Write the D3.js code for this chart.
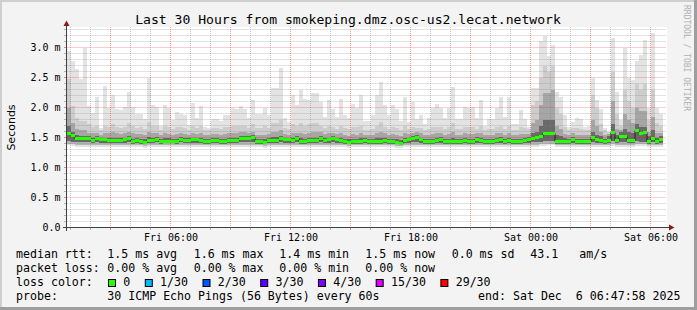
<!DOCTYPE html>
<html><head><meta charset="utf-8">
<script src="https://cdn.jsdelivr.net/npm/d3@7"></script>
<style>
html,body{margin:0;padding:0;background:#f3f3f3;}
svg{display:block;}
text{white-space:pre;}
</style>
</head><body>
<svg id="c" width="697" height="310"></svg>
<script>
// ---------- data (milliseconds) ----------
const startTime = "2025-12-05 00:47:58";
const endTime   = "2025-12-06 06:47:58";
const firstBinTime = "2025-12-05 00:48:00";
const stepMinutes = 12;

const med = [
1.57,1.53,1.48,1.48,1.48,1.48,1.45,1.48,1.46,1.46,1.45,1.45,1.45,1.45,1.46,1.48,1.43,1.45,1.43,1.41,1.45,1.45,1.47,1.43,1.44,1.44,1.44,1.43,1.47,1.45,
1.45,1.46,1.46,1.45,1.43,1.43,1.45,1.45,1.43,1.43,1.45,1.45,1.45,1.48,1.48,1.48,1.50,1.43,1.43,1.41,1.45,1.45,1.45,1.48,1.46,1.46,1.45,1.48,1.43,1.43,
1.45,1.45,1.45,1.48,1.45,1.46,1.48,1.46,1.45,1.43,1.41,1.43,1.43,1.43,1.45,1.43,1.43,1.43,1.43,1.45,1.43,1.43,1.41,1.40,1.45,1.46,1.48,1.50,1.46,1.43,
1.43,1.43,1.45,1.46,1.43,1.43,1.43,1.43,1.43,1.45,1.43,1.43,1.46,1.45,1.43,1.43,1.43,1.45,1.46,1.43,1.45,1.43,1.43,1.43,1.45,1.46,1.48,1.50,1.52,1.57,
1.57,1.57,1.43,1.43,1.43,1.43,1.46,1.43,1.43,1.43,1.43,1.50,1.46,1.45,1.43,1.45,1.58,1.45,1.52,1.51,1.45,1.45,1.62,1.57,1.58,1.44,1.49,1.43,1.47];

const maxv = [
2.94,2.77,2.65,2.48,3.00,2.02,1.91,2.17,1.66,2.36,2.00,2.21,1.98,1.96,2.01,2.26,2.01,1.90,1.90,1.81,2.50,2.04,2.01,1.70,2.05,1.99,1.79,1.92,1.90,1.87,
1.71,2.07,1.83,2.02,1.68,1.66,1.81,1.81,1.77,1.87,1.87,1.99,1.98,2.02,1.98,1.82,2.13,1.90,1.90,2.00,1.87,2.32,2.32,2.66,1.82,1.76,2.20,2.05,2.30,2.14,
2.13,2.25,2.25,2.09,1.85,2.12,1.98,1.85,2.14,1.87,1.82,2.06,1.99,2.20,1.77,1.77,1.88,2.20,2.43,2.04,1.87,2.05,1.98,1.77,2.18,1.76,2.09,1.81,1.87,1.73,
1.82,1.99,2.06,1.99,1.83,1.99,2.35,1.81,1.81,2.01,1.99,2.01,1.83,2.12,1.70,1.81,1.81,1.99,2.18,1.85,2.18,1.73,1.73,1.96,1.81,1.68,2.33,2.33,3.10,3.20,
2.85,3.05,2.26,2.18,1.87,1.67,1.76,1.83,1.81,1.67,1.70,2.50,2.12,1.98,1.66,1.59,3.15,2.26,1.79,2.99,2.50,2.45,2.78,2.87,3.12,2.00,3.24,2.00,1.90];

const up1 = [
2.48,2.02,1.82,1.77,1.78,1.72,1.68,1.70,1.62,1.70,1.68,1.72,1.67,1.66,1.68,1.74,1.70,1.66,1.68,1.64,1.76,1.70,1.70,1.63,1.70,1.68,1.65,1.68,1.67,1.66,
1.63,1.70,1.66,1.70,1.62,1.62,1.66,1.66,1.65,1.67,1.68,1.70,1.69,1.70,1.69,1.66,1.72,1.66,1.66,1.69,1.66,1.74,1.74,1.80,1.66,1.64,1.72,1.70,1.74,1.70,
1.72,1.74,1.74,1.70,1.66,1.70,1.68,1.65,1.70,1.66,1.64,1.68,1.67,1.70,1.63,1.63,1.65,1.70,1.76,1.68,1.65,1.68,1.66,1.63,1.70,1.64,1.68,1.66,1.66,1.63,
1.64,1.67,1.68,1.67,1.64,1.67,1.74,1.64,1.64,1.68,1.67,1.68,1.65,1.70,1.62,1.64,1.64,1.67,1.70,1.65,1.70,1.63,1.63,1.67,1.66,1.64,2.05,2.10,2.50,2.70,
2.60,2.70,2.00,1.90,1.68,1.62,1.66,1.66,1.65,1.62,1.63,2.20,2.00,1.72,1.62,1.60,2.60,1.90,1.70,2.30,2.10,2.00,2.40,2.30,2.40,1.80,2.30,1.75,1.70];

const up2 = [
2.00,1.75,1.65,1.62,1.62,1.58,1.57,1.58,1.55,1.58,1.57,1.59,1.57,1.56,1.57,1.60,1.57,1.56,1.56,1.55,1.60,1.58,1.58,1.55,1.57,1.56,1.55,1.56,1.57,1.56,
1.55,1.57,1.56,1.57,1.54,1.54,1.56,1.56,1.55,1.56,1.57,1.58,1.57,1.59,1.59,1.58,1.60,1.55,1.55,1.55,1.56,1.59,1.59,1.62,1.56,1.55,1.58,1.58,1.58,1.56,
1.58,1.59,1.59,1.59,1.56,1.58,1.58,1.56,1.58,1.55,1.53,1.56,1.55,1.57,1.55,1.54,1.55,1.57,1.60,1.57,1.55,1.56,1.54,1.52,1.58,1.56,1.58,1.59,1.57,1.54,
1.55,1.56,1.57,1.57,1.55,1.56,1.60,1.55,1.55,1.57,1.56,1.56,1.57,1.58,1.54,1.55,1.55,1.57,1.58,1.55,1.58,1.54,1.54,1.56,1.56,1.56,1.75,1.80,2.05,2.25,
2.25,2.30,1.70,1.65,1.56,1.54,1.57,1.55,1.55,1.54,1.54,1.80,1.70,1.60,1.54,1.56,2.10,1.65,1.62,1.90,1.80,1.75,2.00,1.95,1.95,1.60,1.85,1.58,1.57];

const up3 = [
1.70,1.60,1.55,1.53,1.53,1.52,1.50,1.52,1.50,1.50,1.49,1.50,1.49,1.49,1.50,1.52,1.48,1.49,1.48,1.47,1.51,1.50,1.51,1.48,1.49,1.49,1.48,1.48,1.51,1.49,
1.49,1.50,1.50,1.49,1.48,1.48,1.49,1.49,1.48,1.48,1.50,1.50,1.50,1.52,1.52,1.52,1.54,1.48,1.48,1.47,1.50,1.51,1.51,1.53,1.50,1.50,1.50,1.52,1.49,1.48,
1.50,1.50,1.50,1.52,1.49,1.50,1.52,1.50,1.50,1.48,1.47,1.48,1.48,1.49,1.49,1.48,1.48,1.49,1.50,1.50,1.48,1.48,1.47,1.46,1.50,1.50,1.52,1.54,1.50,1.48,
1.48,1.48,1.50,1.51,1.48,1.48,1.50,1.48,1.48,1.50,1.48,1.48,1.51,1.50,1.48,1.48,1.48,1.50,1.51,1.48,1.50,1.48,1.48,1.48,1.50,1.51,1.58,1.60,1.70,1.80,
1.80,1.80,1.55,1.53,1.49,1.48,1.51,1.48,1.48,1.48,1.48,1.60,1.55,1.52,1.48,1.52,1.72,1.55,1.60,1.65,1.60,1.58,1.72,1.68,1.68,1.52,1.62,1.50,1.52];

const lo2 = [
1.44,1.43,1.42,1.42,1.42,1.42,1.41,1.42,1.41,1.41,1.41,1.41,1.41,1.41,1.41,1.42,1.40,1.41,1.40,1.39,1.41,1.41,1.42,1.40,1.41,1.41,1.41,1.40,1.42,1.41,
1.41,1.41,1.41,1.41,1.40,1.40,1.41,1.41,1.40,1.40,1.41,1.41,1.41,1.42,1.42,1.42,1.42,1.40,1.40,1.39,1.41,1.41,1.41,1.42,1.41,1.41,1.41,1.42,1.40,1.40,
1.41,1.41,1.41,1.42,1.41,1.41,1.42,1.41,1.41,1.40,1.39,1.40,1.40,1.40,1.41,1.40,1.40,1.40,1.40,1.41,1.40,1.40,1.39,1.38,1.41,1.41,1.42,1.42,1.41,1.40,
1.40,1.40,1.41,1.41,1.40,1.40,1.40,1.40,1.40,1.41,1.40,1.40,1.41,1.41,1.40,1.40,1.40,1.41,1.41,1.40,1.41,1.40,1.40,1.40,1.41,1.41,1.42,1.42,1.43,1.44,
1.44,1.44,1.40,1.40,1.40,1.40,1.41,1.40,1.40,1.40,1.40,1.42,1.41,1.41,1.40,1.41,1.44,1.41,1.42,1.42,1.41,1.41,1.44,1.43,1.43,1.40,1.42,1.40,1.41];

const lo1 = [
1.40,1.39,1.38,1.38,1.38,1.38,1.37,1.38,1.37,1.37,1.37,1.37,1.37,1.37,1.37,1.38,1.37,1.37,1.37,1.36,1.37,1.37,1.38,1.37,1.37,1.37,1.37,1.37,1.38,1.37,
1.37,1.37,1.37,1.37,1.37,1.37,1.37,1.37,1.37,1.37,1.37,1.37,1.37,1.38,1.38,1.38,1.38,1.37,1.37,1.36,1.37,1.37,1.37,1.38,1.37,1.37,1.37,1.38,1.37,1.37,
1.37,1.37,1.37,1.38,1.37,1.37,1.38,1.37,1.37,1.37,1.36,1.37,1.37,1.37,1.37,1.37,1.37,1.37,1.37,1.37,1.37,1.37,1.36,1.36,1.37,1.37,1.38,1.38,1.37,1.37,
1.37,1.37,1.37,1.37,1.37,1.37,1.37,1.37,1.37,1.37,1.37,1.37,1.37,1.37,1.37,1.37,1.37,1.37,1.37,1.37,1.37,1.37,1.37,1.37,1.37,1.37,1.38,1.38,1.39,1.39,
1.40,1.40,1.37,1.37,1.37,1.37,1.37,1.37,1.37,1.37,1.37,1.38,1.37,1.37,1.37,1.37,1.39,1.37,1.38,1.38,1.37,1.37,1.39,1.39,1.39,1.37,1.38,1.37,1.37];

const minv = [
1.37,1.36,1.35,1.35,1.35,1.35,1.34,1.35,1.34,1.34,1.34,1.34,1.34,1.34,1.34,1.35,1.34,1.34,1.34,1.33,1.34,1.34,1.35,1.34,1.34,1.34,1.34,1.34,1.35,1.34,
1.34,1.34,1.34,1.34,1.34,1.34,1.34,1.34,1.34,1.34,1.34,1.34,1.34,1.35,1.35,1.35,1.35,1.34,1.34,1.33,1.34,1.34,1.34,1.35,1.34,1.34,1.34,1.35,1.34,1.34,
1.34,1.34,1.34,1.35,1.34,1.34,1.35,1.34,1.34,1.34,1.33,1.34,1.34,1.34,1.34,1.34,1.34,1.34,1.34,1.34,1.34,1.34,1.33,1.33,1.34,1.34,1.35,1.35,1.34,1.34,
1.34,1.34,1.34,1.34,1.34,1.34,1.34,1.34,1.34,1.34,1.34,1.34,1.34,1.34,1.34,1.34,1.34,1.34,1.34,1.34,1.34,1.34,1.34,1.34,1.34,1.34,1.35,1.35,1.36,1.36,
1.37,1.37,1.34,1.34,1.34,1.34,1.34,1.34,1.34,1.34,1.34,1.35,1.34,1.34,1.34,1.34,1.36,1.34,1.35,1.35,1.34,1.34,1.36,1.36,1.36,1.34,1.35,1.34,1.34];

const yTickValues = [0, 0.5, 1.0, 1.5, 2.0, 2.5, 3.0];
const yTickLabels = ["0.0", "0.5 m", "1.0 m", "1.5 m", "2.0 m", "2.5 m", "3.0 m"];
const xTickTimes  = ["2025-12-05 06:00:00","2025-12-05 12:00:00","2025-12-05 18:00:00","2025-12-06 00:00:00","2025-12-06 06:00:00"];
const xTickLabels = ["Fri 06:00","Fri 12:00","Fri 18:00","Sat 00:00","Sat 06:00"];

const titleText = "Last 30 Hours from smokeping.dmz.osc-us2.lecat.network";
const rttLegend  = ["median rtt:", "1.5 ms avg", "1.6 ms max", "1.4 ms min", "1.5 ms now", "0.0 ms sd", "43.1", "am/s"];
const lossLegend = ["packet loss:", "0.00 % avg", "0.00 % max", "0.00 % min", "0.00 % now"];
const lossLabels = ["0", "1/30", "2/30", "3/30", "4/30", "15/30", "29/30"];
const lossColors = ["#26ff00", "#00b8ff", "#0059ff", "#5e00ff", "#7e00ff", "#dd00ff", "#ff0000"];
const probeText = "30 ICMP Echo Pings (56 Bytes) every 60s";
const endText = "end: Sat Dec  6 06:47:58 2025";

// ---------- drawing ----------
const svg = d3.select("#c");
const W = 697, H = 310;
const MONO = "'DejaVu Sans Mono', monospace";
const parse = d3.timeParse("%Y-%m-%d %H:%M:%S");
const tStart = parse(startTime), tEnd = parse(endTime), tBin0 = parse(firstBinTime);

const x = d3.scaleTime().domain([tStart, tEnd]).range([66.5, 666.5]);
const y = d3.scaleLinear().domain([0, 3]).range([227.5, 47.5]);
const plotL = 67, plotR = 667, plotTop = 27, plotBot = 227.5;

// background + 3D frame
svg.append("rect").attr("x",0).attr("y",0).attr("width",W).attr("height",H).attr("fill","#f3f3f3");
svg.append("rect").attr("x",0).attr("y",0).attr("width",W).attr("height",2).attr("fill","#cfcfcf");
svg.append("rect").attr("x",0).attr("y",0).attr("width",2).attr("height",H).attr("fill","#cfcfcf");
svg.append("rect").attr("x",0).attr("y",H-3).attr("width",W).attr("height",3).attr("fill","#9e9e9e");
svg.append("rect").attr("x",W-3).attr("y",0).attr("width",3).attr("height",H).attr("fill","#9e9e9e");

// canvas
svg.append("rect").attr("x",plotL).attr("y",plotTop).attr("width",plotR-plotL).attr("height",plotBot-plotTop+0.5).attr("fill","#ffffff");

const n = Math.min(med.length, maxv.length, up1.length, up2.length, up3.length, lo1.length, lo2.length, minv.length);
const bins = d3.range(n).map(i => {
  const t0 = d3.timeMinute.offset(tBin0, i*stepMinutes);
  const t1 = d3.timeMinute.offset(tBin0, (i+1)*stepMinutes);
  return {i, x0: Math.round(x(t0)), x1: Math.round(x(t1))};
});

const gSmoke = svg.append("g").attr("shape-rendering","crispEdges");
function band(lowArr, highArr, color){
  gSmoke.append("g").selectAll("rect").data(bins).join("rect")
    .attr("x", d => d.x0).attr("width", d => d.x1 - d.x0)
    .attr("y", d => Math.round(y(highArr[d.i])))
    .attr("height", d => Math.max(0, Math.round(y(lowArr[d.i])) - Math.round(y(highArr[d.i]))))
    .attr("fill", color);
}
band(minv, maxv, "#e3e3e3");
band(med, up1, "#cdcdcd");
band(lo1, med, "#b4b4b4");
band(med, up2, "#a6a6a6");
band(lo2, med, "#686868");
band(med, up3, "#6a6a6a");

// grid
const gGrid = svg.append("g");
const minorY = d3.range(1, 34).filter(k => k % 5 !== 0).map(k => k/10);
gGrid.selectAll("line.my").data(minorY).join("line")
  .attr("x1", plotL-0.5).attr("x2", plotR-0.5)
  .attr("y1", d => Math.floor(y(d))+0.5).attr("y2", d => Math.floor(y(d))+0.5)
  .attr("stroke","rgba(130,130,130,0.45)").attr("stroke-dasharray","1,1");
const hours = d3.timeHour.range(d3.timeHour.ceil(tStart), tEnd);
gGrid.selectAll("line.mx").data(hours.filter(h => h.getHours() % 3 !== 0)).join("line")
  .attr("x1", d => Math.floor(x(d))+0.5).attr("x2", d => Math.floor(x(d))+0.5)
  .attr("y1", plotTop).attr("y2", plotBot)
  .attr("stroke","rgba(130,130,130,0.45)").attr("stroke-dasharray","1,1");
gGrid.selectAll("line.My").data(yTickValues.filter(v => v > 0)).join("line")
  .attr("x1", plotL-0.5).attr("x2", plotR-0.5)
  .attr("y1", d => Math.floor(y(d))+0.5).attr("y2", d => Math.floor(y(d))+0.5)
  .attr("stroke","rgba(255,0,0,0.38)").attr("stroke-dasharray","1,1");
gGrid.selectAll("line.Mx").data(hours.filter(h => h.getHours() % 3 === 0)).join("line")
  .attr("x1", d => Math.floor(x(d))+0.5).attr("x2", d => Math.floor(x(d))+0.5)
  .attr("y1", plotTop).attr("y2", plotBot)
  .attr("stroke","rgba(255,0,0,0.38)").attr("stroke-dasharray","1,1");

// small ticks outside axes
gGrid.selectAll("line.tx").data(hours).join("line")
  .attr("x1", d => Math.floor(x(d))+0.5).attr("x2", d => Math.floor(x(d))+0.5)
  .attr("y1", plotBot+0.5).attr("y2", plotBot+2.5)
  .attr("stroke", d => d.getHours()%3===0 ? "rgba(255,0,0,0.45)" : "rgba(130,130,130,0.55)");
gGrid.selectAll("line.ty").data(minorY.concat(yTickValues.filter(v=>v>0))).join("line")
  .attr("x1", plotL-3).attr("x2", plotL-0.5)
  .attr("y1", d => Math.floor(y(d))+0.5).attr("y2", d => Math.floor(y(d))+0.5)
  .attr("stroke", d => yTickValues.includes(d) ? "rgba(255,0,0,0.45)" : "rgba(130,130,130,0.55)");

// median: dark step line + green band
const pts = bins.map(d => [d.x0, Math.floor(y(med[d.i]))+0.5]);
pts.push([bins[n-1].x1, Math.floor(y(med[n-1]))+0.5]);
svg.append("path").attr("d", d3.line().curve(d3.curveStepAfter)(pts))
  .attr("fill","none").attr("stroke","#202020").attr("stroke-width",1);
svg.append("g").attr("shape-rendering","crispEdges").selectAll("rect").data(bins).join("rect")
  .attr("x", d => d.x0).attr("width", d => d.x1 - d.x0)
  .attr("y", d => Math.floor(y(med[d.i])) - 1).attr("height", 3)
  .attr("fill", lossColors[0]);

// axes
svg.append("line").attr("x1",63).attr("x2",670).attr("y1",plotBot).attr("y2",plotBot).attr("stroke","#404040");
svg.append("line").attr("x1",66.5).attr("x2",66.5).attr("y1",231).attr("y2",25).attr("stroke","#404040");
svg.append("path").attr("d","M669,224.5 L674.5,227.5 L669,230.5 Z").attr("fill","#8b1a1a");
svg.append("path").attr("d","M63.5,26 L66.5,20.5 L69.5,26 Z").attr("fill","#8b1a1a");

// y labels
svg.append("g").selectAll("text").data(yTickValues).join("text")
  .attr("x", 60.5).attr("y", d => Math.floor(y(d)) + 0.5 + 3.6)
  .attr("text-anchor","end").attr("font-family",MONO).attr("font-size","10px").attr("fill","#000")
  .text((d,i) => yTickLabels[i]);
// x labels
svg.append("g").selectAll("text").data(xTickTimes).join("text")
  .attr("x", d => Math.floor(x(parse(d)))+1).attr("y", 241)
  .attr("text-anchor","middle").attr("font-family",MONO).attr("font-size","10px").attr("fill","#000")
  .text((d,i) => xTickLabels[i]);

// title
svg.append("text").attr("x",348).attr("y",23.5).attr("text-anchor","middle")
  .attr("font-family",MONO).attr("font-size","13.1px").attr("fill","#000").text(titleText);
// y axis title
svg.append("text").attr("transform","translate(14.5,127.5) rotate(-90)").attr("text-anchor","middle")
  .attr("font-family","'DejaVu Sans', sans-serif").attr("font-size","11px").attr("fill","#000").text("Seconds");
// watermark
svg.append("text").attr("transform","translate(683.5,5) rotate(90)").attr("text-anchor","start")
  .attr("font-family",MONO).attr("font-size","8px").attr("fill","#b0b0b0").text("RRDTOOL / TOBI OETIKER");

// legend
const LF = "11.6px";
const cols = [16, 107.3, 193.7, 279.3, 365.3, 451.7, 530.3, 579.3];
function legText(xp, yp, s, anchor){
  return svg.append("text").attr("x",xp).attr("y",yp).attr("text-anchor",anchor||"start")
    .attr("font-family",MONO).attr("font-size",LF).attr("fill","#000").text(s);
}
rttLegend.forEach((s,i) => legText(cols[i], 258, s));
lossLegend.forEach((s,i) => legText(cols[i], 272, s));
legText(cols[0], 286, "loss color:");
let lx = 108.5;
lossLabels.forEach((s,i) => {
  svg.append("rect").attr("x", lx).attr("y", 279.5).attr("width",7).attr("height",7)
    .attr("fill", lossColors[i]).attr("stroke","#000").attr("stroke-width",1);
  const t = legText(lx + 14.8, 286, s);
  lx = lx + 14.8 + t.node().getComputedTextLength() + 15;
});
legText(cols[0], 300, "probe:");
legText(cols[1], 300, probeText);
legText(680.5, 300, endText, "end");
</script>
</body></html>
